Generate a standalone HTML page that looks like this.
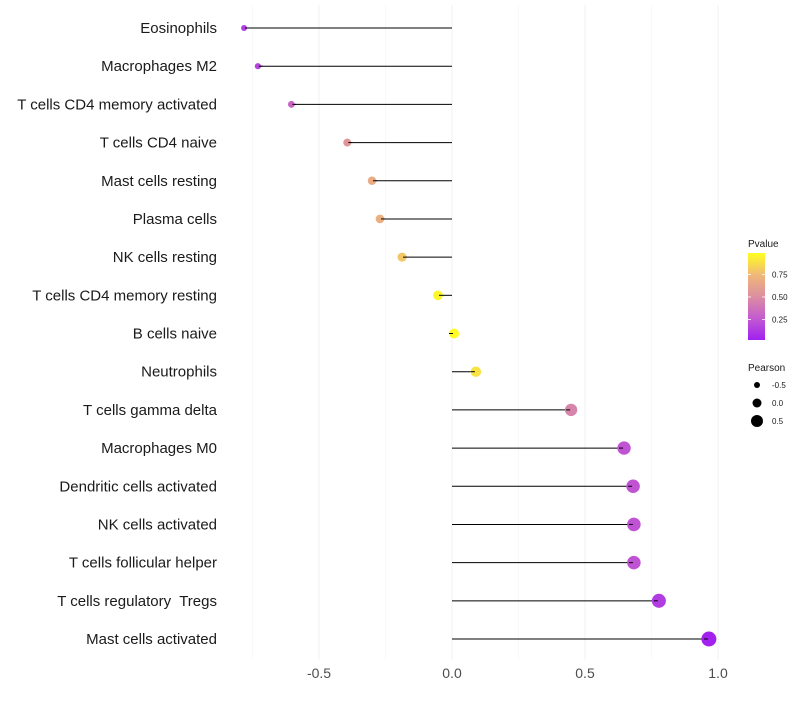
<!DOCTYPE html>
<html><head><meta charset="utf-8"><style>
body{margin:0;background:#fff;font-family:"Liberation Sans",sans-serif}
svg text{font-family:"Liberation Sans",sans-serif;white-space:pre}
</style></head><body>
<svg id="c" width="800" height="700"></svg>
<script>
const cells=["Eosinophils","Macrophages M2","T cells CD4 memory activated","T cells CD4 naive","Mast cells resting","Plasma cells","NK cells resting","T cells CD4 memory resting","B cells naive","Neutrophils","T cells gamma delta","Macrophages M0","Dendritic cells activated","NK cells activated","T cells follicular helper","T cells regulatory  Tregs","Mast cells activated"];
const pearson=[-0.778,-0.726,-0.60,-0.39,-0.297,-0.267,-0.184,-0.049,0.004,0.086,0.444,0.643,0.677,0.68,0.68,0.774,0.962];
const pvalue=[0.12,0.15,0.3,0.55,0.68,0.7,0.8,0.97,0.99,0.9,0.45,0.22,0.22,0.22,0.22,0.12,0.01];
const xTicks=[-0.5,0,0.5,1];
const xTickLabels=["-0.5","0.0","0.5","1.0"];
const xMinor=[-0.75,-0.25,0.25,0.75];
const legP=[0.25,0.5,0.75];
const legS=[-0.5,0,0.5];

const NS="http://www.w3.org/2000/svg",svg=document.getElementById('c');
const X=v=>452+v*266;
const Y=i=>28+i*(611/16);
const R=v=>Math.max(2,5+2.6*v);
const stops=[[0,[160,32,240]],[0.25,[196,90,208]],[0.5,[220,142,160]],[0.75,[240,184,120]],[1,[255,255,32]]];
function col(p){for(let k=1;k<stops.length;k++){if(p<=stops[k][0]){const[a,ca]=stops[k-1],[b,cb]=stops[k],t=(p-a)/(b-a);return 'rgb('+ca.map((c,j)=>Math.round(c+(cb[j]-c)*t)).join(',')+')';}}return 'rgb(255,255,32)';}
function el(t,a,p){const e=document.createElementNS(NS,t);for(const k in a)e.setAttribute(k,a[k]);(p||svg).appendChild(e);return e;}

xMinor.forEach(v=>{const l=el('line',{x1:X(v),x2:X(v),y1:5,y2:660,stroke:'#f5f5f5','stroke-width':0.6});

});
xTicks.forEach((v,i)=>{const l=el('line',{x1:X(v),x2:X(v),y1:5,y2:660,stroke:'#f0f0f0','stroke-width':1});


const t=el('text',{x:X(v),y:678,'text-anchor':'middle','font-size':14,fill:'#4d4d4d'});t.textContent=xTickLabels[i];

});

cells.forEach((c,i)=>{
const t=el('text',{x:217,y:Y(i)+5,'text-anchor':'end','font-size':15,fill:'#1a1a1a'});t.textContent=c;


const l=el('line',{x1:X(0),x2:X(pearson[i]),y1:Y(i),y2:Y(i),stroke:'#000','stroke-width':1});


const d=el('circle',{cx:X(pearson[i])+(pearson[i]>=0?1:-1),cy:Y(i),r:R(pearson[i]),fill:col(pvalue[i])});


const l2=el('line',{x1:X(pearson[i])-(pearson[i]>=0?4:-4),x2:X(pearson[i]),y1:Y(i),y2:Y(i),stroke:'#000','stroke-width':1});


});

const lt=el('text',{x:748,y:247,'font-size':10,fill:'#1a1a1a'});lt.textContent='Pvalue';


const defs=el('defs',{});const g=el('linearGradient',{id:'gr',x1:0,y1:1,x2:0,y2:0},defs);
stops.forEach(s=>el('stop',{offset:s[0],'stop-color':col(s[0])},g));
const bar=el('rect',{x:748,y:253,width:17,height:87,fill:'url(#gr)'});


legP.forEach(p=>{const y=342-p*90;
el('line',{x1:748,x2:751,y1:y,y2:y,stroke:'#fff','stroke-width':0.8});el('line',{x1:762,x2:765,y1:y,y2:y,stroke:'#fff','stroke-width':0.8});
const t=el('text',{x:772,y:y+3,'font-size':8,fill:'#1a1a1a'});t.textContent=p.toFixed(2);

});
const st=el('text',{x:748,y:371,'font-size':10,fill:'#1a1a1a'});st.textContent='Pearson';


legS.forEach((v,i)=>{const y=385+i*18;
const c=el('circle',{cx:757,cy:y,r:3+1.5*(v+0.5)*2,fill:'#000'});


const t=el('text',{x:772,y:y+3,'font-size':8,fill:'#1a1a1a'});t.textContent=v.toFixed(1);

});
</script>
</body></html>
